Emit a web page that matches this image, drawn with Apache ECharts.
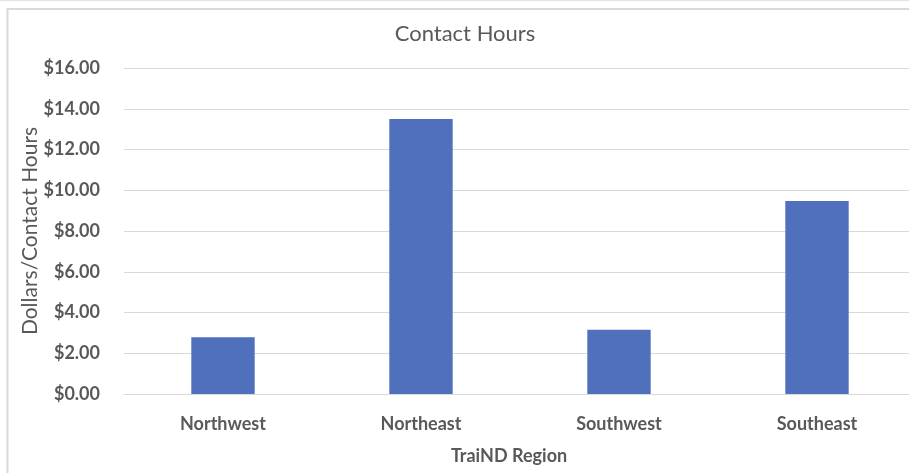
<!DOCTYPE html>
<html>
<head>
<meta charset="utf-8">
<script src="https://cdn.jsdelivr.net/npm/echarts@6/dist/echarts.min.js"></script>
<style>html,body{margin:0;padding:0;background:#fff;overflow:hidden;}#c{width:925px;height:473px;}</style>
</head>
<body>
<div id="c"></div>
<script>
var categories = ['Northwest', 'Northeast', 'Southwest', 'Southeast'];
var values = [2.78, 13.5, 3.15, 9.47];
var yTicks = [0, 2, 4, 6, 8, 10, 12, 14, 16];
var titleText = 'Contact Hours';
var xName = 'TraiND Region';
var yName = 'Dollars/Contact Hours';

var txt = '#595959';
var font = 'Lato';
var chart = echarts.init(document.getElementById('c'), null, {renderer: 'canvas'});
chart.setOption({
  animation: false,
  backgroundColor: '#fff',
  title: {
    text: titleText,
    left: 465, top: 23, textAlign: 'center', padding: 0,
    textStyle: {color: txt, fontFamily: font, fontWeight: 'normal', fontSize: 22}
  },
  graphic: [
    {type: 'line', shape: {x1: 0, y1: 0.5, x2: 925, y2: 0.5}, style: {stroke: '#e3e3e3', lineWidth: 1}},
    {type: 'polyline', shape: {points: [[7.5, 473], [7.5, 9], [925, 9]]}, style: {stroke: '#d9d9d9', lineWidth: 2, fill: null}}
  ],
  grid: {left: 124, top: 68, width: 792, height: 326, containLabel: false},
  xAxis: {
    type: 'category',
    data: categories,
    name: xName,
    nameLocation: 'middle',
    nameGap: 53,
    nameMoveOverlap: false,
    nameTextStyle: {color: txt, fontFamily: font, fontWeight: 'bold', fontSize: 18, padding: [0, 22, 0, 0]},
    axisLine: {show: true, lineStyle: {color: '#d9d9d9', width: 1}},
    axisTick: {show: false},
    axisLabel: {color: txt, fontFamily: font, fontWeight: 'bold', fontSize: 18, margin: 21}
  },
  yAxis: {
    type: 'value',
    min: yTicks[0], max: yTicks[yTicks.length - 1], interval: 2,
    name: yName,
    nameLocation: 'middle',
    nameGap: 83,
    nameMoveOverlap: false,
    nameTextStyle: {color: txt, fontFamily: font, fontWeight: 'normal', fontSize: 21},
    axisLine: {show: false},
    axisTick: {show: false},
    splitLine: {lineStyle: {color: '#d9d9d9', width: 1}},
    axisLabel: {color: txt, fontFamily: font, fontWeight: 'bold', fontSize: 18, margin: 24,
      formatter: function (v) { return '$' + v.toFixed(2); }}
  },
  series: [{
    type: 'bar',
    data: values,
    barWidth: '32%',
    itemStyle: {color: '#5070be'}
  }]
});
</script>
</body>
</html>
